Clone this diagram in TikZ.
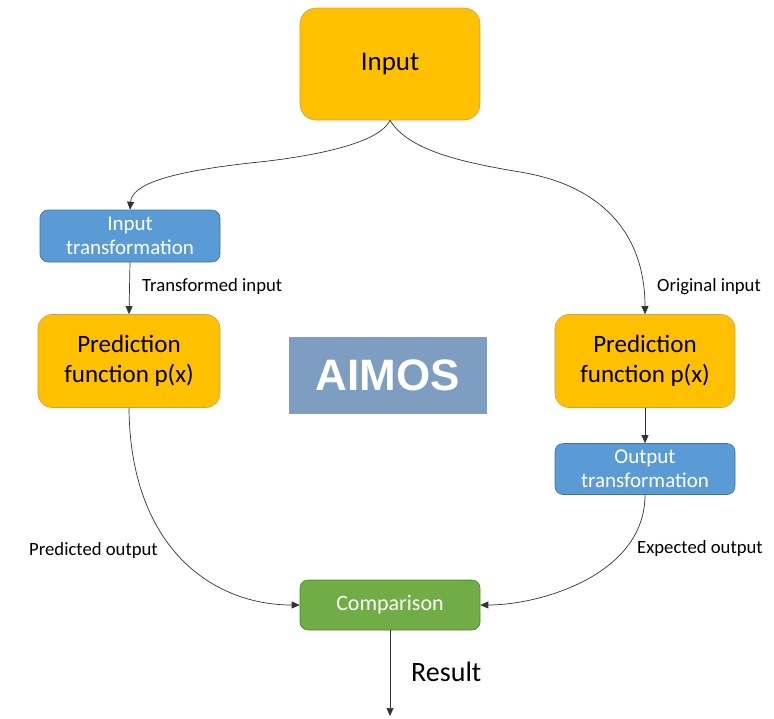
\documentclass[tikz,border=0pt]{standalone}
\usepackage{fontspec}
\setmainfont{Carlito}
\newfontfamily\logofont{Liberation Sans}
\usetikzlibrary{arrows.meta}
\definecolor{gold}{HTML}{FFC000}
\definecolor{golddark}{HTML}{C9A24A}
\definecolor{bluebox}{HTML}{5B9BD5}
\definecolor{bluedark}{HTML}{41719C}
\definecolor{greenbox}{HTML}{70AD47}
\definecolor{greendark}{HTML}{507E32}
\definecolor{logoblue}{HTML}{7D9EC0}
\definecolor{wire}{HTML}{333333}
\tikzset{
  goldbox/.style={draw=golddark, fill=gold, rounded corners=14pt, line width=0.6pt, align=center, text=black},
  bluebox/.style={draw=bluedark, fill=bluebox, rounded corners=8pt, line width=0.6pt, align=center, text=white, font=\fontsize{21}{24}\selectfont},
  greenbox/.style={draw=greendark, fill=greenbox, rounded corners=8pt, line width=0.6pt, align=center, text=white, font=\fontsize{22}{26}\selectfont},
  link/.style={draw=wire, line width=0.7pt, -{Triangle[length=8pt,width=7pt]}},
  lbl/.style={font=\fontsize{18.7}{22}\selectfont, text=black, inner sep=0pt}
}
\begin{document}
\begin{tikzpicture}[x=1pt,y=-1pt]
\useasboundingbox (0,0) rectangle (774,718);

% boxes
\node[goldbox, minimum width=180pt, minimum height=112pt, rounded corners=16pt, font=\fontsize{27}{32}\selectfont] (in) at (390,64) {Input};
\node[bluebox, minimum width=180pt, minimum height=52pt, inner sep=0pt] (itf) at (130,236) {Input\\transformation};
\node[goldbox, minimum width=182pt, minimum height=93pt, font=\fontsize{25}{30}\selectfont] (pl) at (129,361) {Prediction\\function p(x)};
\node[goldbox, minimum width=180pt, minimum height=93pt, font=\fontsize{25}{30}\selectfont] (pr) at (645,361) {Prediction\\function p(x)};
\node[bluebox, minimum width=180pt, minimum height=51pt, inner sep=0pt] (otf) at (645,469) {Output\\transformation};
\node[greenbox, minimum width=180pt, minimum height=50pt] (cmp) at (390,605) {Comparison};

% title plate
\node[fill=logoblue, minimum width=198pt, minimum height=77pt, text=white, font=\logofont\bfseries\fontsize{44}{50}\selectfont] (logo) at (388,375) {AIMOS};

% free end of the result arrow
\coordinate (res) at (390,716);

% connectors
\draw[link] (in.south) .. controls (378,146) and (300,158) .. (250,163)
                       .. controls (170,172) and (132,184) .. (itf.north);
\draw[link] (in.south) .. controls (408,150) and (460,162) .. (520,172)
                       .. controls (600,185) and (645,232) .. (pr.north);
\draw[link] (itf.south) -- (pl.north);
\draw[link] (pr.south) -- (otf.north);
\draw[link] (pl.south) .. controls (130,545) and (210,605) .. (cmp.west);
\draw[link] (otf.south) .. controls (645,575) and (540,605) .. (cmp.east);
\draw[link] (cmp.south) -- (res);

% connector labels
\node[lbl, anchor=west] (l1) at (142,287) {Transformed input};
\node[lbl, anchor=west] (l2) at (657,287) {Original input};
\node[lbl, anchor=west] (l3) at (29,551) {Predicted output};
\node[lbl, anchor=west] (l4) at (637,549) {Expected output};
\node[anchor=west, inner sep=0pt, font=\fontsize{28}{32}\selectfont] (l5) at (411,672) {Result};
\end{tikzpicture}
\end{document}
